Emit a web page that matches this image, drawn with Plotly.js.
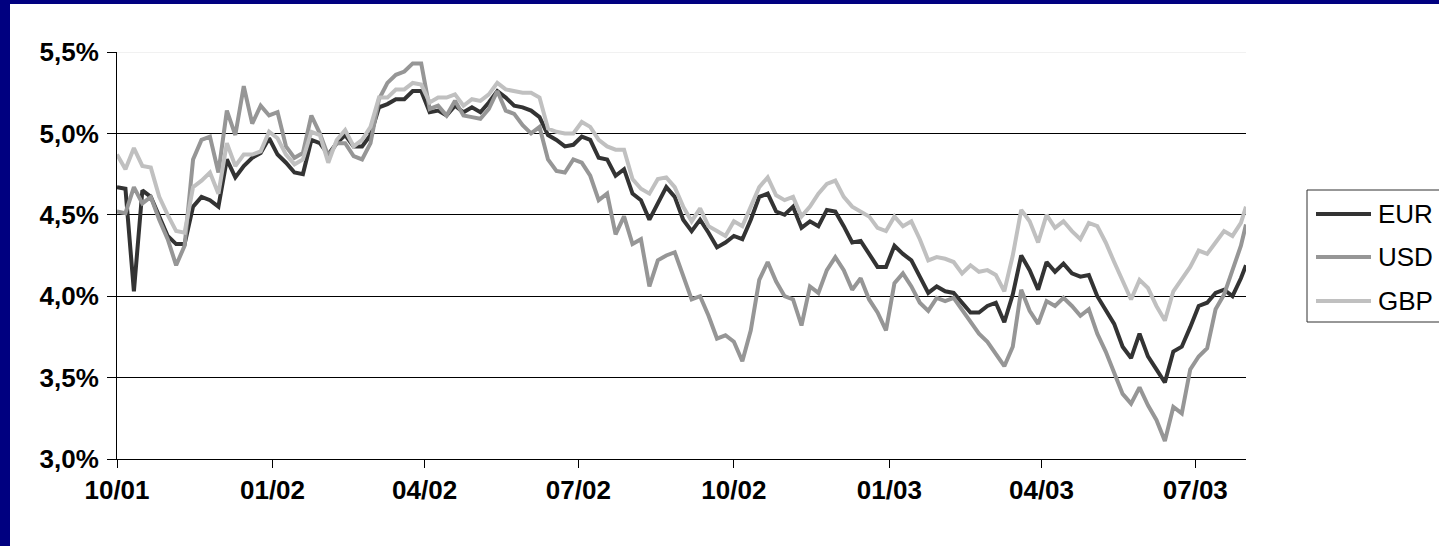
<!DOCTYPE html>
<html>
<head>
<meta charset="utf-8">
<script src="https://cdn.plot.ly/plotly-3.0.1.min.js"></script>
<style>
  html, body { margin: 0; padding: 0; width: 1439px; height: 546px; overflow: hidden; background: #000080; }
  #chart { position: absolute; left: 10px; top: 4px; width: 1480px; height: 542px; background: #ffffff; }
</style>
</head>
<body>
<div id="chart"></div>
<script>
// Observation dates (every five days, Oct 2001 – Jul 2003)
const dates = [
  '2001-10-01','2001-10-06','2001-10-11','2001-10-16','2001-10-21','2001-10-26','2001-10-31',
  '2001-11-05','2001-11-10','2001-11-15','2001-11-20','2001-11-25','2001-11-30',
  '2001-12-05','2001-12-10','2001-12-15','2001-12-20','2001-12-25','2001-12-30',
  '2002-01-04','2002-01-09','2002-01-14','2002-01-19','2002-01-24','2002-01-29',
  '2002-02-03','2002-02-08','2002-02-13','2002-02-18','2002-02-23','2002-02-28',
  '2002-03-05','2002-03-10','2002-03-15','2002-03-20','2002-03-25','2002-03-30',
  '2002-04-04','2002-04-09','2002-04-14','2002-04-19','2002-04-24','2002-04-29',
  '2002-05-04','2002-05-09','2002-05-14','2002-05-19','2002-05-24','2002-05-29',
  '2002-06-03','2002-06-08','2002-06-13','2002-06-18','2002-06-23','2002-06-28',
  '2002-07-03','2002-07-08','2002-07-13','2002-07-18','2002-07-23','2002-07-28',
  '2002-08-02','2002-08-07','2002-08-12','2002-08-17','2002-08-22','2002-08-27',
  '2002-09-01','2002-09-06','2002-09-11','2002-09-16','2002-09-21','2002-09-26',
  '2002-10-01','2002-10-06','2002-10-11','2002-10-16','2002-10-21','2002-10-26','2002-10-31',
  '2002-11-05','2002-11-10','2002-11-15','2002-11-20','2002-11-25','2002-11-30',
  '2002-12-05','2002-12-10','2002-12-15','2002-12-20','2002-12-25','2002-12-30',
  '2003-01-04','2003-01-09','2003-01-14','2003-01-19','2003-01-24','2003-01-29',
  '2003-02-03','2003-02-08','2003-02-13','2003-02-18','2003-02-23','2003-02-28',
  '2003-03-05','2003-03-10','2003-03-15','2003-03-20','2003-03-25','2003-03-30',
  '2003-04-04','2003-04-09','2003-04-14','2003-04-19','2003-04-24','2003-04-29',
  '2003-05-04','2003-05-09','2003-05-14','2003-05-19','2003-05-24','2003-05-29',
  '2003-06-03','2003-06-08','2003-06-13','2003-06-18','2003-06-23','2003-06-28',
  '2003-07-03','2003-07-08','2003-07-13','2003-07-18','2003-07-23','2003-07-28','2003-07-31'
];

// Yields in percent
const eur = [
  4.67,4.66,4.03,4.65,4.61,4.49,4.37,
  4.32,4.32,4.55,4.61,4.59,4.55,
  4.84,4.73,4.80,4.85,4.88,4.97,
  4.87,4.82,4.76,4.75,4.96,4.94,
  4.87,4.94,4.99,4.92,4.92,4.99,
  5.16,5.18,5.21,5.21,5.26,5.26,
  5.13,5.14,5.11,5.17,5.13,5.16,
  5.13,5.19,5.26,5.22,5.17,5.16,
  5.14,5.10,4.99,4.96,4.92,4.93,
  4.98,4.96,4.85,4.84,4.74,4.78,
  4.63,4.59,4.47,4.57,4.67,4.61,
  4.47,4.40,4.47,4.39,4.30,4.33,
  4.37,4.35,4.47,4.61,4.63,4.52,4.50,
  4.55,4.42,4.46,4.43,4.53,4.52,
  4.43,4.33,4.34,4.26,4.18,4.18,
  4.31,4.26,4.22,4.12,4.02,4.06,
  4.03,4.02,3.96,3.90,3.90,3.94,
  3.96,3.84,4.01,4.25,4.16,4.04,
  4.21,4.15,4.20,4.14,4.12,4.13,
  4.00,3.92,3.83,3.69,3.62,3.77,
  3.63,3.55,3.47,3.66,3.69,3.81,
  3.94,3.96,4.02,4.04,4.00,4.11,4.19
];

const usd = [
  4.52,4.51,4.67,4.57,4.61,4.47,4.35,
  4.19,4.31,4.84,4.96,4.98,4.76,
  5.14,4.99,5.29,5.06,5.17,5.11,
  5.13,4.92,4.85,4.88,5.11,5.00,
  4.86,4.94,4.94,4.86,4.84,4.94,
  5.21,5.31,5.36,5.38,5.43,5.43,
  5.15,5.17,5.11,5.20,5.11,5.10,
  5.09,5.15,5.26,5.14,5.12,5.05,
  5.00,5.04,4.84,4.77,4.76,4.84,
  4.82,4.74,4.59,4.63,4.38,4.49,
  4.32,4.35,4.06,4.22,4.25,4.27,
  4.12,3.98,4.00,3.88,3.74,3.76,
  3.72,3.60,3.79,4.10,4.21,4.09,4.00,
  3.98,3.82,4.06,4.02,4.16,4.24,
  4.16,4.04,4.11,3.98,3.90,3.79,
  4.08,4.14,4.06,3.96,3.91,3.99,
  3.97,3.99,3.92,3.85,3.77,3.72,
  3.65,3.57,3.69,4.04,3.91,3.83,
  3.97,3.94,3.99,3.94,3.88,3.92,
  3.77,3.66,3.53,3.40,3.34,3.44,
  3.33,3.24,3.11,3.32,3.28,3.55,
  3.63,3.68,3.92,4.01,4.16,4.31,4.44
];

const gbp = [
  4.87,4.78,4.91,4.80,4.79,4.61,4.50,
  4.40,4.39,4.67,4.71,4.76,4.63,
  4.94,4.80,4.87,4.87,4.89,5.01,
  4.97,4.87,4.81,4.84,5.01,4.99,
  4.82,4.96,5.02,4.92,4.96,5.04,
  5.22,5.22,5.27,5.27,5.31,5.30,
  5.19,5.22,5.22,5.24,5.17,5.21,
  5.20,5.24,5.31,5.27,5.26,5.25,
  5.25,5.22,5.03,5.01,5.00,5.00,
  5.07,5.04,4.96,4.92,4.90,4.90,
  4.72,4.66,4.63,4.72,4.73,4.67,
  4.55,4.46,4.54,4.43,4.40,4.37,
  4.46,4.43,4.55,4.67,4.73,4.62,4.59,
  4.61,4.49,4.55,4.63,4.69,4.71,
  4.61,4.55,4.52,4.49,4.42,4.40,
  4.49,4.43,4.46,4.35,4.22,4.24,
  4.23,4.21,4.14,4.19,4.15,4.16,
  4.13,4.03,4.25,4.53,4.46,4.33,
  4.50,4.42,4.46,4.40,4.35,4.45,
  4.43,4.33,4.21,4.10,3.98,4.10,
  4.05,3.94,3.85,4.03,4.10,4.18,
  4.28,4.26,4.33,4.40,4.37,4.45,4.55
];

const seriesNames = ['EUR', 'USD', 'GBP'];
const seriesColors = ['#333333', '#969696', '#c0c0c0'];
const seriesValues = [eur, usd, gbp];

const yTicks = [3.0, 3.5, 4.0, 4.5, 5.0, 5.5];
const yTickText = yTicks.map(v => v.toFixed(1).replace('.', ',') + '%');

// Plot geometry (pixels inside the chart div)
const W = 1480, H = 542;
const M = { l: 107, r: 244, t: 48, b: 87 };
const plotW = W - M.l - M.r;
const plotH = H - M.t - M.b;
const px = x => (x - M.l) / plotW;          // div x  -> paper x
const py = y => (H - M.b - y) / plotH;      // div y  -> paper y

const fontFamily = 'Liberation Sans, Arial, sans-serif';
const labelFont = { family: fontFamily, size: 26, color: '#000000', weight: 'bold' };

const traces = seriesNames.map((name, i) => ({
  type: 'scatter',
  mode: 'lines',
  name: name,
  x: dates,
  y: seriesValues[i],
  line: { color: seriesColors[i], width: 4, shape: 'linear' },
  hoverinfo: 'skip',
  showlegend: false
}));

// Faint rule along the top of the plot area
const shapes = [{
  type: 'line', xref: 'paper', yref: 'y',
  x0: 0, x1: 1, y0: yTicks[yTicks.length - 1], y1: yTicks[yTicks.length - 1],
  line: { color: '#e4e4e4', width: 1 }, layer: 'below'
}];

// Legend box: framed key with long line samples, running off the right edge
const legendBox = { x0: 1297, x1: 1480, y0: 186, y1: 318 };
const legendRows = [210, 253, 297];
shapes.push({
  type: 'rect', xref: 'paper', yref: 'paper',
  x0: px(legendBox.x0), x1: px(legendBox.x1), y0: py(legendBox.y1), y1: py(legendBox.y0),
  line: { color: '#303030', width: 1 }, fillcolor: '#ffffff', layer: 'above'
});
const legendNotes = [];
seriesNames.forEach((name, i) => {
  shapes.push({
    type: 'line', xref: 'paper', yref: 'paper',
    x0: px(1306), x1: px(1361), y0: py(legendRows[i]), y1: py(legendRows[i]),
    line: { color: seriesColors[i], width: 4 }, layer: 'above'
  });
  legendNotes.push({
    xref: 'paper', yref: 'paper', x: px(1366), y: py(legendRows[i]),
    xanchor: 'left', yanchor: 'middle', showarrow: false,
    text: name, font: { family: fontFamily, size: 26, color: '#000000' }
  });
});

const layout = {
  width: W,
  height: H,
  paper_bgcolor: '#ffffff',
  plot_bgcolor: '#ffffff',
  margin: { l: M.l, r: M.r, t: M.t, b: M.b, pad: 0 },
  showlegend: false,
  shapes: shapes,
  annotations: legendNotes,
  xaxis: {
    type: 'date',
    range: ['2001-10-01', '2003-07-31'],
    tick0: '2001-10-01',
    dtick: 'M3',
    tickformat: '%m/%y',
    ticks: 'outside',
    ticklen: 8,
    tickwidth: 1,
    tickcolor: '#000000',
    ticklabelstandoff: 0,
    showline: true,
    linecolor: '#000000',
    linewidth: 1,
    showgrid: false,
    zeroline: false,
    automargin: false,
    tickfont: labelFont
  },
  yaxis: {
    range: [3.0, 5.5],
    tickmode: 'array',
    tickvals: yTicks,
    ticktext: yTickText,
    ticks: 'outside',
    ticklen: 9,
    tickwidth: 1,
    tickcolor: '#000000',
    ticklabelstandoff: 3,
    showline: true,
    linecolor: '#000000',
    linewidth: 1,
    showgrid: true,
    gridcolor: '#000000',
    gridwidth: 1,
    zeroline: false,
    automargin: false,
    tickfont: labelFont
  }
};

Plotly.newPlot('chart', traces, layout, { staticPlot: true, displayModeBar: false });
</script>
</body>
</html>
